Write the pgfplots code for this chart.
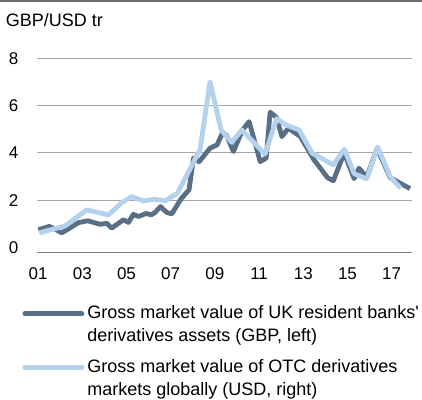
\documentclass[border=0pt]{standalone}
\usepackage{pgfplots}
\pgfplotsset{compat=1.18}
\usepackage{pgfplotstable}
\usepackage{fontspec}
\setmainfont{Liberation Sans}
\definecolor{darkln}{HTML}{596F86}
\definecolor{lightln}{HTML}{B4D1EE}
\definecolor{gridc}{HTML}{A6A6A6}
\definecolor{axc}{HTML}{808080}
\definecolor{rulec}{HTML}{6E6E6E}
\pgfplotstableread{
x y
2001.01 0.75
2001.50 0.89
2001.69 0.82
2002.07 0.62
2002.40 0.80
2002.82 1.05
2003.24 1.13
2003.81 0.98
2004.11 1.02
2004.33 0.82
2004.86 1.17
2005.09 1.06
2005.31 1.40
2005.54 1.31
2005.89 1.44
2006.11 1.38
2006.29 1.48
2006.54 1.73
2006.82 1.48
2007.05 1.42
2007.47 2.06
2007.83 2.44
2008.03 3.77
2008.29 3.63
2008.78 4.20
2009.10 4.34
2009.35 4.86
2009.54 4.72
2009.84 4.06
2010.25 4.97
2010.55 5.32
2011.05 3.63
2011.32 3.78
2011.50 5.72
2011.79 5.50
2012.03 4.69
2012.33 5.04
2012.86 4.70
2013.49 3.70
2014.10 2.95
2014.36 2.82
2014.85 4.00
2015.30 2.91
2015.52 3.35
2015.87 2.98
2016.34 4.18
2016.93 2.96
2017.38 2.72
2017.83 2.49
}\ukdata
\pgfplotstableread{
x y
2001.05 0.62
2002.22 0.91
2003.20 1.59
2004.18 1.38
2004.79 1.90
2005.24 2.15
2005.76 1.97
2006.29 2.04
2006.75 1.97
2007.31 2.30
2008.33 4.15
2008.78 7.01
2009.28 4.97
2009.76 4.45
2010.22 4.97
2011.27 3.95
2011.80 5.45
2012.22 5.18
2012.81 4.97
2013.40 3.99
2014.36 3.49
2014.86 4.16
2015.30 3.12
2015.87 2.90
2016.37 4.25
2016.93 3.00
2017.40 2.51
}\otcdata
\begin{document}
\begin{tikzpicture}[x=1bp,y=1bp]
\path[use as bounding box] (0,0) rectangle (422,400);
\draw[rulec, line width=1.7bp] (0,399.15) -- (422,399.15);
\node[anchor=base west, inner sep=0pt, font=\fontsize{18bp}{21bp}\selectfont] at (5.7,373.3) {GBP/USD tr};
\begin{axis}[
  at={(37bp,147.3bp)}, anchor=south west,
  scale only axis, width=375bp, height=194.4bp,
  xmin=2000.95, xmax=2017.92, ymin=-0.22, ymax=8,
  clip=false,
  separate axis lines,
  axis x line*=bottom, axis y line*=left,
  x axis line style={axc, line width=1.3bp},
  y axis line style={draw=none},
  major tick length=0pt,
  tick style={draw=none},
  ytick={2,4,6,8},
  ymajorgrids,
  grid style={gridc, line width=0.9bp},
  extra y ticks={0},
  extra y tick style={grid=none},
  xtick={2001,2003,2005,2007,2009,2011,2013,2015,2017},
  xticklabels={01,03,05,07,09,11,13,15,17},
  tick label style={font=\fontsize{17bp}{20bp}\selectfont},
  /pgf/number format/assume math mode=true,
  yticklabel style={anchor=center, xshift=-23.3bp},
  xticklabel style={anchor=center, yshift=-20.8bp},
  legend cell align=left,
  legend image code/.code={\draw[#1, line cap=round] (0bp,10.5bp) -- (57bp,10.5bp);},
  legend style={draw=none, fill=none, at={(rel axis cs:-0.0387,-0.272)}, anchor=north west,
    inner sep=0pt, outer sep=0pt, row sep=16bp, column sep=3bp,
    nodes={inner sep=0pt, align=left},
    font=\fontsize{18bp}{23bp}\selectfont},
]
\addplot[darkln, line width=4.8bp, line join=round] table[x=x,y=y] {\ukdata};
\addlegendentry{Gross market value of UK resident banks\textquotesingle\\derivatives assets (GBP, left)}
\addplot[lightln, line width=4.8bp, line join=round] table[x=x,y=y] {\otcdata};
\addlegendentry{Gross market value of OTC derivatives\\markets globally (USD, right)}
\end{axis}
\end{tikzpicture}
\end{document}
